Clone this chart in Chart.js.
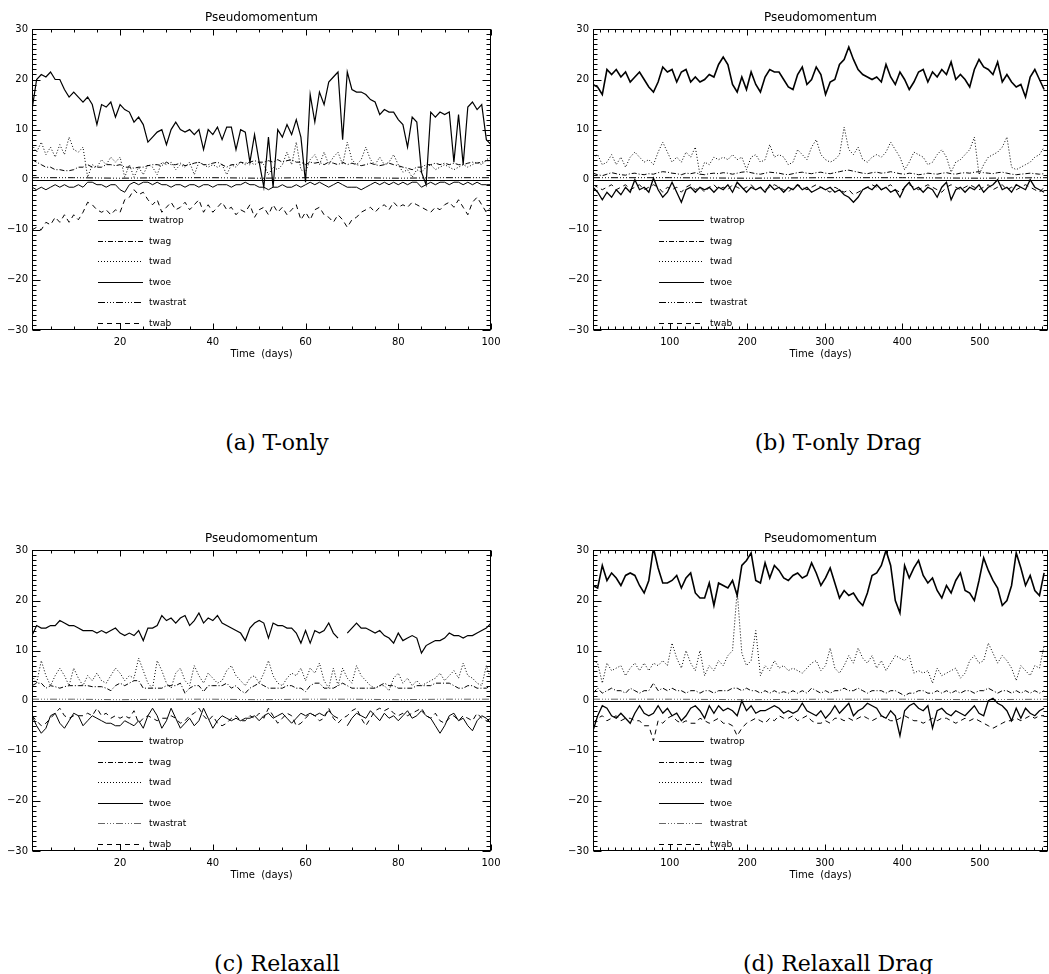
<!DOCTYPE html>
<html lang="en">
<head>
  <meta charset="UTF-8" />
  <title>Pseudomomentum</title>
  <script src="https://cdn.jsdelivr.net/npm/chart.js"></script>
  <style>
    body {
      margin: 0;
      width: 1049px;
      height: 974px;
      position: relative;
      overflow: hidden;
      background: #fff;
    }
    .panel {
      position: absolute;
    }
    .caption {
      position: absolute;
      transform: translate(-50%, -50%);
      font-family: 'DejaVu Serif', serif;
      font-size: 22px;
      white-space: nowrap;
      color: #000;
    }
  </style>
</head>
<body>
  <div class="panel" style="left:0;top:0"><canvas id="chartA" width="520" height="371"></canvas></div>
  <div class="panel" style="left:561px;top:0"><canvas id="chartB" width="520" height="371"></canvas></div>
  <div class="panel" style="left:0;top:521px"><canvas id="chartC" width="520" height="371"></canvas></div>
  <div class="panel" style="left:561px;top:521px"><canvas id="chartD" width="520" height="371"></canvas></div>

  <div class="caption" style="left:277px;top:442px">(a) T-only</div>
  <div class="caption" style="left:838px;top:442px">(b) T-only Drag</div>
  <div class="caption" style="left:277px;top:963px">(c) Relaxall</div>
  <div class="caption" style="left:838px;top:963px">(d) Relaxall Drag</div>

  <script>
    // ---- axis ticks ----
    const yTicks = [-30, -20, -10, 0, 10, 20, 30];
    const xTicksShort = [20, 40, 60, 80, 100];
    const xTicksLong = [100, 200, 300, 400, 500];

    // ---- sample days ----
    const days100 = [
      1, 2, 3, 4, 5, 6, 7, 8, 9, 10, 11, 12, 13, 14, 15, 16, 17, 18, 19, 20,
      21, 22, 23, 24, 25, 26, 27, 28, 29, 30, 31, 32, 33, 34, 35, 36, 37, 38, 39, 40,
      41, 42, 43, 44, 45, 46, 47, 48, 49, 50, 51, 52, 53, 54, 55, 56, 57, 58, 59, 60,
      61, 62, 63, 64, 65, 66, 67, 68, 69, 70, 71, 72, 73, 74, 75, 76, 77, 78, 79, 80,
      81, 82, 83, 84, 85, 86, 87, 88, 89, 90, 91, 92, 93, 94, 95, 96, 97, 98, 99, 100
    ];
    const daysLong = [
      1, 7, 13, 19, 25, 31, 37, 43, 49, 55,
      61, 67, 73, 79, 85, 91, 97, 103, 109, 115,
      121, 127, 133, 139, 145, 151, 157, 163, 169, 175,
      181, 187, 193, 199, 205, 211, 217, 223, 229, 235,
      241, 247, 253, 259, 265, 271, 277, 283, 289, 295,
      301, 307, 313, 319, 325, 331, 337, 343, 349, 355,
      361, 367, 373, 379, 385, 391, 397, 403, 409, 415,
      421, 427, 433, 439, 445, 451, 457, 463, 469, 475,
      481, 487, 493, 499, 505, 511, 517, 523, 529, 535,
      541, 547, 553, 559, 565, 571, 577, 583
    ];
    const stratDaysShort = [1, 10, 20, 30, 40, 50, 60, 70, 80, 90, 100];
    const stratDaysLong = [1, 100, 200, 300, 400, 500, 588];

    // ---- (a) T-only ----
    const aTwatrop = [
      14, 20, 21, 20.5, 21.5, 20, 20, 18, 16.5, 17.5,
      16.5, 15.5, 16.5, 15, 11, 15, 14.5, 15.5, 12.5, 15,
      14, 13.5, 11.5, 12.5, 11, 7.5, 8.5, 9.5, 10, 7,
      10, 11.5, 10, 9.5, 10, 9, 10, 6, 10, 9,
      10.5, 8, 10.5, 10.5, 6, 10, 9.5, 3.5, 9, 3.5,
      -1.5, 8.5, -1.5, 10, 8.5, 11, 9, 12, 8.5, -0.5,
      17, 11.5, 17.5, 15, 19.5, 20.5, 21.5, 8, 21.5, 18,
      17.5, 17.5, 17, 16, 15.5, 13, 14, 13.5, 13.5, 12,
      11, 6.5, 12.5, 11.5, 1.5, -1, 13.5, 12.5, 13.5, 13,
      13.5, 3.5, 13, 3, 14.5, 15.5, 14, 15, 8, 7
    ];
    const aTwag = [
      4, 3.5, 3, 2.5, 2.5, 2, 2, 1.8, 1.8, 2,
      2.5, 2.5, 3, 2.5, 2.5, 2.5, 3, 3, 2.8, 3,
      2.5, 2.5, 2.3, 2.5, 2.5, 2.8, 3, 3, 2.8, 3.5,
      3, 3, 3.3, 2.8, 3, 3.3, 3.5, 3, 3, 3.3,
      3.5, 3, 2.5, 3, 3, 3.5, 3.3, 3.5, 3.8, 3.5,
      3.5, 3.8, 3.5, 4, 3.5, 3.8, 4, 3.5, 3.5, 3,
      3.5, 3.3, 3.5, 3, 3.5, 3.3, 3, 3.5, 3, 3.3,
      3, 2.8, 3, 3.3, 3, 2.8, 3, 3.3, 3, 2.8,
      2.5, 2.3, 2, 2.5, 2.5, 3, 3, 3.3, 3, 3.3,
      3, 3.3, 3, 3, 3.3, 3.5, 3.3, 3.5, 3.8, 3.8
    ];
    const aTwad = [
      7, 5.5, 7.5, 5, 6.5, 4.5, 7, 5, 8.5, 6,
      5.5, 6.5, 0.5, 3, 2.5, 4, 3, 4.5, 3.5, 4.5,
      0.5, 3, 0.5, 2.5, 1, 3, 2.5, 1, 3.5, 3,
      3.5, 2, 3, 2.5, 3.5, 1, 3.5, 3, 2.5, 3,
      2.5, 3, 1, 3, 2.5, 3.5, 3, 3.5, 3, 3.5,
      3, 1, 2.5, 2, 3, 5.5, 3, 7.5, 2, 1.5,
      4, 5, 3, 5.5, 3, 4.5, 5.5, 3, 7.5, 4,
      3, 4, 6.5, 4, 3, 4.5, 3, 3.5, 5, 3,
      1.5, 2, 0.5, 2, 1.5, 2.5, 3, 2, 2.5, 3,
      2.5, 2, 2.5, 3, 2.5, 3, 3.5, 3, 4, 4.5
    ];
    const aTwoe = [
      -1.5, -2, -1.5, -2, -1.5, -1, -1.5, -1, -1.5, -1.5,
      -1, -1.5, -0.5, -0.5, -1, -1, -1.5, -1, -1, -2,
      -2.5, -1, -0.5, -1, -0.5, -0.5, -1, -0.5, -1, -1,
      -1.5, -1, -1, -1.5, -1, -1, -1.5, -1, -1, -1.5,
      -1, -1, -1, -1.5, -1, -1, -0.5, -1, -1, -1.5,
      -1.5, -2, -1.5, -1.5, -1, -1.5, -1.5, -1, -1.5, -1,
      -0.5, -1, -0.5, -1, -1.5, -1, -0.5, -1, -1.5, -1.5,
      -1.5, -2, -1.5, -1, -0.5, -1, -0.5, -1, -0.5, -1,
      -0.5, -1, -0.5, -0.5, -1.5, -1, -0.5, -1, -0.5, -0.5,
      -1, -0.5, -0.5, -1, -0.5, -1, -0.5, -1, -1, -1
    ];
    const aTwastrat = [0.4, 0.4, 0.3, 0.4, 0.4, 0.3, 0.4, 0.4, 0.3, 0.4, 0.4];
    const aTwab = [
      -10, -9.5, -10, -8.5, -9, -7.5, -8.5, -7, -8.5, -7,
      -8, -6.5, -4.5, -5, -6, -6.5, -6, -7, -6, -6.5,
      -4, -3.5, -2, -3, -2.5, -4, -5, -4, -6.5, -5.5,
      -4.5, -6, -5.5, -4.5, -6, -5, -4, -6.5, -5, -6.5,
      -5.5, -4.5, -6, -5.5, -7, -6, -6.5, -5, -7.5, -6,
      -5.5, -7, -5, -6.5, -5.5, -7, -6, -5, -8, -6.5,
      -8, -6, -5.5, -7, -7.5, -8.5, -7, -8, -9.5, -8,
      -7.5, -6.5, -6, -5.5, -6.5, -5.5, -5, -6, -4.5, -5.5,
      -5, -5.5, -4.5, -5, -5.5, -6, -6.5, -5.5, -6, -5,
      -4.5, -5.5, -4, -5.5, -7, -4.5, -3.5, -5, -6.5, -5.5
    ];

    // ---- (b) T-only Drag ----
    const bTwatrop = [
      19, 18.5, 17, 22, 21, 22, 20.5, 21.5, 19.5, 20.5,
      21.5, 20, 18.5, 17.5, 19.5, 22.5, 21.5, 22, 19.5, 21.5,
      22, 19.5, 20.5, 19.5, 20, 21, 20.5, 23, 24.5, 23,
      19, 17.5, 20.5, 18, 21.5, 19, 17.5, 20.5, 22, 21.5,
      21.5, 20, 18.5, 18, 21, 22.5, 19, 20, 22.5, 21,
      17, 19.5, 20, 23, 24, 26.5, 24, 22, 21, 20.5,
      20, 20.5, 19.5, 23, 20.5, 19, 21.5, 20, 18, 19.5,
      21.5, 22, 19.5, 21.5, 20.5, 22, 21, 23.5, 20, 21,
      20, 18.5, 22, 24, 22.5, 22, 21, 23.5, 19.5, 21,
      19.5, 18.5, 19, 16.5, 20.5, 22, 20, 18
    ];
    const bTwag = [
      1.3, 1.0, 0.8, 1.1, 1.4, 1.2, 1.0, 0.9, 1.2, 1.3,
      1.1, 1.0, 1.2, 1.1, 1.4, 1.6, 1.5, 1.3, 1.2, 1.0,
      1.3, 1.2, 1.4, 1.1, 1.0, 1.2, 1.3, 1.2, 1.4, 1.3,
      1.1, 1.3, 1.5, 1.6, 1.4, 1.2, 1.1, 1.3, 1.5, 1.4,
      1.3, 1.1, 1.0, 1.2, 1.4, 1.5, 1.3, 1.2, 1.4, 1.5,
      1.3, 1.2, 1.4, 1.6, 1.8, 1.9, 1.7, 1.5, 1.3, 1.2,
      1.4, 1.5, 1.3, 1.4, 1.6, 1.4, 1.2, 1.1, 1.3, 1.2,
      1.0, 1.1, 1.3, 1.2, 1.1, 1.3, 1.4, 1.2, 1.1, 1.3,
      1.4, 1.3, 1.5, 1.6, 1.4, 1.3, 1.2, 1.4, 1.5, 1.3,
      1.1, 1.0, 1.1, 1.2, 1.3, 1.2, 1.1, 1.2
    ];
    const bTwad = [
      4.5, 5, 3, 3.5, 5, 3, 4.5, 2.5, 4.5, 5.5,
      4.5, 3.5, 4, 3, 5.5, 7.5, 5.5, 3.5, 4.5, 3.5,
      5.5, 4.5, 6.5, 1, 3.5, 3, 4.5, 4, 4.5, 4,
      5, 4, 4.5, 2, 4.5, 5, 3.5, 4, 7, 4.5,
      5, 4.5, 3, 3.5, 6, 5, 4, 6.5, 8, 5,
      4, 3.5, 4, 5, 10.5, 6, 5, 6.5, 4, 3.5,
      4.5, 5, 4.5, 5.5, 7.5, 6, 4.5, 2, 3.5, 5.5,
      5, 4.5, 3, 3.5, 5, 6, 4.5, 1.5, 3.5, 4,
      5, 6, 8.5, 1, 3, 4.5, 5, 5.5, 6.5, 8.5,
      2.5, 2, 2.5, 3, 3.5, 4.5, 5, 6.5
    ];
    const bTwoe = [
      -1.5, -2.5, -4, -2.5, -3.5, -2, -3, -1.5, -2.5, 0,
      -2, -1.5, -2.5, 0.3, -2, -3.5, -2.5, -0.5, -2.5, -4.5,
      -2, -1.5, -2.5, -1.5, -2, -1.5, -2.5, -1.5, -2, -1,
      -2.5, -0.5, -1.5, -2.5, -1.5, -2, -1.5, -2.5, -1, -2,
      -1.5, -2.5, -1.5, -2, -1, -2, -1.5, -2.5, -2, -1.5,
      -2, -1.5, -2.5, -2, -3, -3.5, -4.5, -3.5, -2, -1.5,
      -2, -1, -2, -1.5, -2.5, -2, -3.5, -1.5, -0.5, -2,
      -1.5, -2.5, -1.5, -2, -3.5, -1.5, -0.5, -4, -2, -1.5,
      -2.5, -1.5, -2, -1, -2.5, -1.5, -1, 0, -2, -1.5,
      -2.5, -1, -1.5, -2, 0, -1.5, -2, -2.5
    ];
    const bTwastrat = [0.4, 0.4, 0.3, 0.4, 0.4, 0.3, 0.4];
    const bTwab = [
      -1, -1.5, -2, -1.5, -1, -2, -1.5, -1, -2, -1.5,
      -1, -2, -1.5, -1, -1.5, -2.5, -1.5, -2, -1.5, -2.5,
      -1.5, -1, -2, -1.5, -2.5, -1.5, -1, -2, -1.5, -2,
      -1, -1.5, -2, -1.5, -1, -2, -1.5, -2, -1.5, -1,
      -1.5, -2, -2.5, -1.5, -1, -1.5, -2, -1.5, -1, -1.5,
      -2, -2.5, -1.5, -2, -2.5, -2, -3, -2.5, -2, -1.5,
      -1, -1.5, -2, -1.5, -1, -2, -2.5, -1.5, -1, -1.5,
      -2, -1.5, -1, -1.5, -2, -2.5, -1.5, -1, -1.5, -2,
      -1.5, -1, -1.5, -2, -1.5, -1, -2, -1.5, -1, -2,
      -1.5, -2, -1.5, -1, -1.5, -2, -2.5, -1.5
    ];

    // ---- (c) Relaxall ----
    const cTwatrop = [
      13, 15, 14.5, 14.5, 15, 15, 16, 15.5, 15, 15,
      14.5, 14, 14, 14, 13.5, 14, 13.5, 14, 14.5, 13.5,
      13, 13.5, 13, 14, 12, 14.5, 14.5, 15, 17, 16,
      16.5, 15.5, 16.5, 17, 15, 16, 17.5, 15.5, 16.5, 16,
      17, 15.5, 15, 14.5, 14, 13.5, 12, 14.5, 15.5, 16,
      15.5, 12.5, 15.5, 15, 15, 14.5, 14.5, 13.5, 11.5, 14,
      11.5, 14, 13.5, 14, 15.5, 13.5, 12.5, null, 13.5, 14.5,
      15.5, 14.5, 14.5, 14, 13.5, 14, 13, 12.5, 11.5, 13.5,
      12, 12.5, 13, 12.5, 9.5, 11, 11.5, 12, 12, 12.5,
      13.5, 13, 13, 12.5, 13, 13, 13.5, 14, 14.5, 15.5
    ];
    const cTwag = [
      3, 3.5, 3.5, 2.5, 3, 2.8, 2.5, 2.8, 3, 3,
      3, 3, 3, 2.8, 2.8, 2.8, 2.5, 2, 3, 3.5,
      3, 3.5, 4, 4, 2.5, 2.5, 2.5, 2.5, 2.5, 3,
      3, 3, 3.5, 1.5, 2.5, 3, 3, 1.8, 3, 3,
      3, 3, 3.5, 2.5, 3, 2, 1.5, 2.5, 3, 3.5,
      3, 2.5, 2.5, 2.5, 2.5, 3, 3, 2.5, 2.5, 1.8,
      3, 3.5, 3.5, 2.5, 2.5, 2.5, 3, 3.5, 3, 2.5,
      2.5, 2.5, 2.5, 2.5, 2.5, 3, 3.5, 3, 3, 2.5,
      2.5, 2.5, 2.5, 3, 3, 3, 3, 3.5, 3.5, 3.5,
      3.5, 3, 2.5, 2.5, 3, 3, 2.5, 2.5, 2.5, 3
    ];
    const cTwad = [
      5, 3.5, 8, 5, 3, 5, 6.5, 5, 3, 6.5,
      4.5, 3, 5, 4, 5.5, 4, 3.5, 5, 6.5, 5.5,
      4, 5, 4.5, 8.5, 6, 3.5, 2.5, 8, 6, 3.5,
      2.5, 5.5, 6.5, 4, 3, 7, 5, 3.5, 5.5, 4.5,
      3.5, 4, 6, 7, 5, 4, 3, 4.5, 5, 3.5,
      5.5, 8, 5, 3.5, 3, 4.5, 5.5, 5, 6.5, 4,
      6.5, 5.5, 7.5, 4, 2.5, 6.5, 3, 6.5, 4.5, 3.5,
      7, 5, 4, 3, 2.5, 3, 3, 2, 4.5, 5.5,
      3.5, 4.5, 3, 4, 3, 3.5, 4, 4.5, 5.5, 4,
      5, 6, 4.5, 7.5, 5, 4.5, 3.5, 3, 7, 4
    ];
    const cTwoe = [
      -3, -5, -6.5, -5.5, -3, -2.5, -4.5, -5.5, -4, -2.5,
      -3, -5, -4, -3, -3.5, -4, -4.5, -4.5, -5, -5,
      -4, -4.5, -5, -4, -5.5, -3, -1.5, -3, -5.5, -4,
      -1.5, -3.5, -5.5, -4.5, -3.5, -5, -4, -1.5, -3.5, -5.5,
      -4, -3, -3.5, -4, -3.5, -4, -3.5, -3.5, -3, -4,
      -3, -2.5, -3.5, -3, -2.5, -3.5, -4.5, -3.5, -2.5, -3,
      -2.5, -3, -2.5, -3, -2, -3, -3.5, null, -5, -3.5,
      -2.5, -3, -3.5, -2, -3, -4, -2.5, -3.5, -3, -4,
      -3, -2, -3.5, -3, -2, -3, -3.5, -5, -6.5, -5,
      -3, -2.5, -4, -3.5, -5, -6, -4, -3, -3.5, -4.5
    ];
    const cTwastrat = [0.3, 0.3, 0.2, 0.3, 0.3, 0.2, 0.3, 0.3, 0.2, 0.3, 0.3];
    const cTwab = [
      -3, -4, -5, -4.5, -3.5, -2.5, -1.5, -3, -3.5, -3,
      -3, -3, -2.5, -3, -1.5, -3, -2.5, -3.5, -3, -3.5,
      -3, -3.5, -2, -4.5, -3.5, -3, -3.5, -4, -3.5, -3.5,
      -3, -3.5, -4.5, -4, -3, -2.5, -1.5, -3, -4, -3,
      -4.5, -5, -4.5, -3.5, -3, -4, -4, -3, -3.5, -2.5,
      -3.5, -1.5, -3, -4.5, -3.5, -2.5, -3, -5, -4.5, -3.5,
      -2.5, -3, -4, -3.5, -1.5, -3.5, -4.5, -3.5, -3, -2,
      -1.5, -3.5, -5, -3.5, -2, -1.5, -2, -1.5, -2.5, -3,
      -2.5, -3, -2.5, -2, -1.5, -3, -3.5, -2.5, -4, -4.5,
      -3.5, -3, -4, -3, -3.5, -4, -2.5, -3.5, -4, -3.5
    ];

    // ---- (d) Relaxall Drag ----
    const dTwatrop = [
      23, 22.5, 27, 24, 25.5, 24.5, 23, 25, 25.5, 25,
      23, 21.5, 24, 30.5, 26.5, 23.5, 23.5, 24, 25, 22.5,
      24.5, 25.5, 21.5, 20.5, 20.5, 23.5, 19, 23.5, 23, 22.5,
      24, 21, 27, 28, 29.5, 24, 23.5, 27.5, 24.5, 27,
      26, 24.5, 24, 25, 25.5, 24.5, 25, 27.5, 25.5, 23,
      24.5, 26.5, 23.5, 20.5, 22, 21, 21.5, 20, 19, 21.5,
      25, 25.5, 27, 30, 27, 20, 17.5, 27, 24.5, 26.5,
      28, 25, 23.5, 24.5, 22, 20.5, 23, 21.5, 24, 25.5,
      22, 21.5, 20, 24, 28.5, 26, 24, 22.5, 19, 20,
      23, 29.5, 26.5, 23, 25, 22, 21, 25.5
    ];
    const dTwag = [
      1.5, 2.5, 1.5, 2, 2.5, 2, 2, 1.5, 2.5, 2,
      1.5, 2, 2, 3.5, 2, 2.5, 2, 2.5, 2, 2,
      1.5, 2, 2, 1.5, 2, 2, 1.5, 2, 2, 2,
      2.5, 2.5, 2, 2.5, 2, 2, 1.5, 2, 1.5, 2,
      1.5, 1.8, 1.5, 2, 1.5, 2, 1.5, 2.5, 2, 1.5,
      2, 1.5, 2, 2, 2.5, 2, 2, 2.5, 2, 1.5,
      2, 2, 2, 1.5, 2, 2, 1.5, 1, 1.5, 1.5,
      2, 2, 1.5, 1.5, 2, 1.5, 2, 1.5, 2, 1.5,
      2, 2, 1.5, 2, 2, 2.5, 2, 1.5, 2, 2,
      1.5, 2, 1.5, 2, 1.5, 2, 1.5, 2
    ];
    const dTwad = [
      8, 7.5, 3.5, 7.5, 6, 6.5, 7, 5, 6.5, 7.5,
      6, 7.5, 6, 7.5, 7, 8, 7, 11.5, 8.5, 6.5,
      10, 7.5, 6, 10, 5, 7, 6, 8, 7, 9,
      10, 22, 9.5, 7, 8, 14, 5, 7, 6, 8,
      6.5, 7, 6, 6.5, 6, 5.5, 6.5, 7.5, 8, 6,
      7, 10.5, 6.5, 5.5, 7, 9, 7.5, 10.5, 8.5, 7.5,
      9, 6.5, 8, 6, 7.5, 9, 8.5, 8, 9, 5.5,
      6, 5.5, 6, 3.5, 6.5, 5, 5.5, 6, 6.5, 4.5,
      5.5, 8, 9, 7.5, 8, 11.5, 9.5, 7.5, 9, 8,
      6.5, 4, 7, 6, 5, 7, 6.5, 11
    ];
    const dTwoe = [
      -6, -3, -1, -1.5, -3, -3.5, -2.5, -3.5, -4.5, -2.5,
      -1, -2.5, -3, -2.5, -1, -2.5, -1.5, -3, -2.5, -4,
      -3, -1.5, -1, -2, -3.5, -1, -2.5, -1, -2, -1.5,
      -2, -3, 0, -2, -1, -2.5, -2, -2, -1.5, -1,
      -1.5, -2.5, -2, -2.5, -2, -0.5, -2, -2.5, -3, -2,
      -3.5, -2.5, -1, -2.5, -1.5, -0.5, -3, -2, -1.5, -0.5,
      -1, -1.5, -3, -3.5, -2, -3, -7, -2, -1, -0.5,
      -1.5, -2, -1, -5.5, -2, -1.5, -2.5, -3, -2, -2.5,
      -3, -2, -1, -2.5, -3, 0, 0.5, -0.5, -1, -2,
      -4, -1.5, -3.5, -1.5, -2.5, -3, -2, -1.5
    ];
    const dTwastrat = [0.3, 0.3, 0.2, 0.3, 0.3, 0.2, 0.3];
    const dTwab = [
      -4.5, -3.5, -3, -4, -3.5, -3, -4, -3.5, -3.5, -4,
      -4, -5, -5, -8, -4, -4.5, -3.5, -3, -4, -4.5,
      -4, -4.5, -4.5, -3.5, -4, -4.5, -4, -3.5, -4.5, -4.5,
      -5, -7, -5.5, -4.5, -4, -3.5, -4, -4.5, -3.5, -4,
      -3, -3.5, -3.5, -3, -4, -3.5, -3, -4, -4.5, -4.5,
      -4, -4.5, -3.5, -3.5, -4, -3.5, -4, -3.5, -3, -3.5,
      -4, -3.5, -3, -3.5, -4, -4, -3.5, -3, -3.5, -4,
      -4, -4.5, -4, -3.5, -4, -3.5, -3.5, -4, -4.5, -4,
      -3.5, -4, -3.5, -4, -4.5, -5, -5.5, -5, -4.5, -4,
      -4, -3.5, -4, -3.5, -3, -3.5, -3, -3
    ];

    // ---- helpers ----
    function pts(days, vals) {
      return days.map((d, i) => ({ x: d, y: vals[i] }));
    }

    function seg(ctx, x1, y1, x2, y2) {
      ctx.beginPath();
      ctx.moveTo(x1, y1);
      ctx.lineTo(x2, y2);
      ctx.stroke();
    }

    // IDL style frame: box, inward ticks on all sides, zero line and the line legend
    const idlFrame = {
      id: 'idlFrame',
      afterDatasetsDraw(chart, args, o) {
        const { ctx, chartArea: a } = chart;
        const xs = chart.scales.x, ys = chart.scales.y;
        const L = Math.round(a.left) + 0.5, R = Math.round(a.right) - 0.5;
        const T = Math.round(a.top) + 0.5, B = Math.round(a.bottom) - 0.5;
        ctx.save();
        ctx.strokeStyle = '#000';
        ctx.lineWidth = 1;
        ctx.setLineDash([]);

        const z = Math.round(ys.getPixelForValue(0)) + 0.5;
        seg(ctx, L, z, R, z);
        ctx.strokeRect(L, T, R - L, B - T);

        for (let v = o.xMinor; v <= xs.max; v += o.xMinor) {
          if (v <= xs.min) continue;
          const px = Math.round(xs.getPixelForValue(v)) + 0.5;
          const len = o.xMajor.includes(v) ? 6 : 3;
          seg(ctx, px, B, px, B - len);
          seg(ctx, px, T, px, T + len);
        }
        for (let v = ys.min; v <= ys.max; v += 1) {
          const py = Math.round(ys.getPixelForValue(v)) + 0.5;
          const len = v % 10 === 0 ? 8 : 4;
          seg(ctx, L, py, L + len, py);
          seg(ctx, R, py, R - len, py);
        }

        ctx.font = "9px 'DejaVu Sans'";
        ctx.textBaseline = 'middle';
        ctx.fillStyle = '#000';
        chart.data.datasets.forEach((ds, i) => {
          const yy = Math.round(a.top + 190.5 + i * 20.6) + 0.5;
          ctx.strokeStyle = ds.borderColor;
          ctx.setLineDash(ds.borderDash || []);
          seg(ctx, a.left + 66, yy, a.left + 111, yy);
          ctx.setLineDash([]);
          ctx.fillText(ds.label, a.left + 117, yy + 0.5);
        });
        ctx.restore();
      }
    };

    Chart.defaults.font.family = "'DejaVu Sans', sans-serif";
    Chart.defaults.font.size = 10;
    Chart.defaults.color = '#000';

    const styles = {
      twatrop: { borderDash: [] },
      twag: { borderDash: [5, 2, 1, 2] },
      twad: { borderDash: [1, 2] },
      twoe: { borderDash: [] },
      twastrat: { borderDash: [7, 2, 1, 2, 1, 2, 1, 2] },
      twab: { borderDash: [5, 4] }
    };

    function series(label, data, width, color) {
      return {
        label: label,
        data: data,
        borderColor: color || '#000',
        borderWidth: width,
        borderDash: styles[label].borderDash,
        pointRadius: 0,
        tension: 0,
        fill: false
      };
    }

    function makeChart(id, sets, xMin, xMax, xMajor, xMinor, padRight) {
      return new Chart(document.getElementById(id), {
        type: 'line',
        data: { datasets: sets },
        plugins: [idlFrame],
        options: {
          responsive: false,
          animation: false,
          devicePixelRatio: 1,
          layout: { padding: { left: 0, right: padRight, top: 0, bottom: 0 } },
          plugins: {
            legend: { display: false },
            tooltip: { enabled: false },
            title: {
              display: true,
              text: 'Pseudomomentum',
              fullSize: false,
              color: '#000',
              font: { size: 12, weight: 'normal' },
              padding: { top: 11, bottom: 4 }
            },
            idlFrame: { xMajor: xMajor, xMinor: xMinor }
          },
          scales: {
            x: {
              type: 'linear',
              min: xMin,
              max: xMax,
              grid: { display: false, drawTicks: false },
              border: { display: false },
              afterFit(s) { s.height = 41; },
              afterBuildTicks(s) { s.ticks = xMajor.map(v => ({ value: v })); },
              ticks: { padding: 6, maxRotation: 0, autoSkip: false, font: { size: 10 } },
              title: {
                display: true,
                text: 'Time  (days)',
                font: { size: 10 },
                padding: { top: 0, bottom: 11 }
              }
            },
            y: {
              type: 'linear',
              min: -30,
              max: 30,
              grid: { display: false, drawTicks: false },
              border: { display: false },
              afterFit(s) { s.width = 32; },
              afterBuildTicks(s) { s.ticks = yTicks.map(v => ({ value: v })); },
              ticks: {
                padding: 4,
                font: { size: 10 },
                callback: v => (v < 0 ? '\u2212' + Math.abs(v) : String(v))
              }
            }
          }
        }
      });
    }

    makeChart('chartA', [
      series('twatrop', pts(days100, aTwatrop), 1.2),
      series('twag', pts(days100, aTwag), 1),
      series('twad', pts(days100, aTwad), 1),
      series('twoe', pts(days100, aTwoe), 1),
      series('twastrat', pts(stratDaysShort, aTwastrat), 1),
      series('twab', pts(days100, aTwab), 1)
    ], 1, 100, xTicksShort, 5, 29);

    makeChart('chartB', [
      series('twatrop', pts(daysLong, bTwatrop), 1.6),
      series('twag', pts(daysLong, bTwag), 1),
      series('twad', pts(daysLong, bTwad), 1),
      series('twoe', pts(daysLong, bTwoe), 1.3),
      series('twastrat', pts(stratDaysLong, bTwastrat), 1),
      series('twab', pts(daysLong, bTwab), 1)
    ], 1, 588, xTicksLong, 10, 33);

    makeChart('chartC', [
      series('twatrop', pts(days100, cTwatrop), 1.2),
      series('twag', pts(days100, cTwag), 1),
      series('twad', pts(days100, cTwad), 1),
      series('twoe', pts(days100, cTwoe), 1),
      series('twastrat', pts(stratDaysShort, cTwastrat), 1, '#666'),
      series('twab', pts(days100, cTwab), 1)
    ], 1, 100, xTicksShort, 5, 29);

    makeChart('chartD', [
      series('twatrop', pts(daysLong, dTwatrop), 1.6),
      series('twag', pts(daysLong, dTwag), 1),
      series('twad', pts(daysLong, dTwad), 1),
      series('twoe', pts(daysLong, dTwoe), 1.3),
      series('twastrat', pts(stratDaysLong, dTwastrat), 1, '#666'),
      series('twab', pts(daysLong, dTwab), 1)
    ], 1, 588, xTicksLong, 10, 33);
  </script>
</body>
</html>
